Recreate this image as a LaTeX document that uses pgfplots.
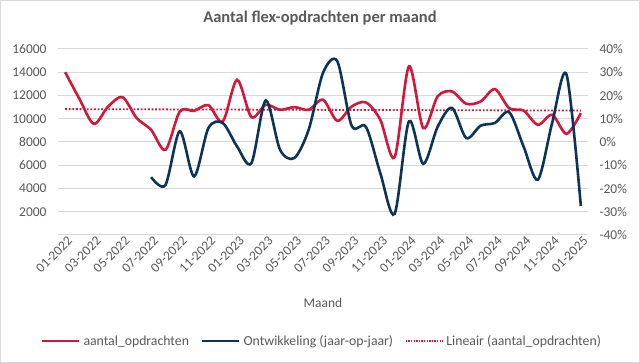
\documentclass[border=0pt]{standalone}
\usepackage{pgfplots}
\usepackage{pgfplotstable}
\pgfplotsset{compat=1.18}
\usepackage{fontspec}
\setmainfont{Carlito}
\definecolor{cred}{HTML}{D2173B}
\definecolor{cblue}{HTML}{0C3457}
\definecolor{ctext}{HTML}{595959}
\definecolor{cgrid}{HTML}{D9D9D9}

\pgfplotstableread{
i v
0 14000
1 11700
2 9560
3 11050
4 11860
5 10050
6 9050
7 7320
8 10620
9 10680
10 11170
11 9760
12 13350
13 10140
14 11200
15 10770
16 11000
17 10770
18 11630
19 9820
20 11050
21 11400
22 9910
23 6690
24 14500
25 9190
26 11920
27 12350
28 11290
29 11480
30 12550
31 10910
32 10710
33 9480
34 10340
35 8700
36 10480
}\reddata

\pgfplotstableread{
i p
6 -15.1
7 -18.5
8 4.6
9 -14.8
10 6.0
11 8.2
12 -1.9
13 -9.1
14 17.9
15 -3.3
16 -6.9
17 5.3
18 29.7
19 34.7
20 7.0
21 6.5
22 -13.4
23 -30.9
24 8.9
25 -9.4
26 6.5
27 14.7
28 1.7
29 7.0
30 8.2
31 12.8
32 -1.9
33 -16.2
34 8.2
35 29.0
36 -27.5
}\bluedata

\pgfplotstableread{
i t
0 10830
36 10700
}\trenddata

\begin{document}
\begin{tikzpicture}
\fill[white] (0,0) rectangle (640bp,363bp);
\draw[cgrid, line width=1bp] (0.5bp,0.5bp) rectangle (639.5bp,362.5bp);
\pgfplotsset{
  every axis/.append style={
    at={(58bp,128bp)}, anchor=south west, scale only axis,
    width=530bp, height=186bp,
    xmin=-0.5, xmax=36.5,
    axis line style={draw=none},
    major tick length=0pt,
    scaled y ticks=false,
    tick label style={font=\fontsize{13.5}{16}\selectfont, text=ctext},
  }
}
\begin{axis}[
  ymin=0, ymax=16000,
  ytick={0,2000,4000,6000,8000,10000,12000,14000,16000},
  yticklabels={,2000,4000,6000,8000,10000,12000,14000,16000},
  ymajorgrids, grid style={cgrid, line width=1bp},
  xtick={0,2,...,36},
  xticklabels={01-2022,03-2022,05-2022,07-2022,09-2022,11-2022,01-2023,03-2023,05-2023,07-2023,09-2023,11-2023,01-2024,03-2024,05-2024,07-2024,09-2024,11-2024,01-2025},
  xticklabel style={rotate=45, anchor=east, inner sep=1bp, yshift=-6bp, xshift=2bp},
  yticklabel style={xshift=-8bp},
]
\addplot[cred, line width=2.6bp, smooth, tension=0.5] table[x=i, y=v] {\reddata};
\addplot[cred, line width=1.8bp, dash pattern=on 1.8bp off 1.8bp] table[x=i, y=t] {\trenddata};
\end{axis}
\begin{axis}[
  ymin=-40, ymax=40,
  axis y line*=right, axis x line=none,
  xtick=\empty,
  ytick={-40,-30,-20,-10,0,10,20,30,40},
  yticklabels={-40\%,-30\%,-20\%,-10\%,0\%,10\%,20\%,30\%,40\%},
  yticklabel style={xshift=8bp},
  legend style={at={(0.498,-0.57)}, anchor=center, draw=none, fill=none,
    legend columns=3, font=\fontsize{13.8}{16}\selectfont, text=ctext,
    /tikz/every odd column/.append style={column sep=1bp},
    /tikz/every even column/.append style={column sep=10bp},
    inner sep=0pt},
  legend image code/.code={\draw[#1] (0bp,0bp) -- (37bp,0bp);},
  legend cell align=left,
]
\addlegendimage{cred, line width=2.6bp}
\addlegendentry{aantal\_opdrachten}
\addplot[cblue, line width=2.6bp, smooth, tension=0.5] table[x=i, y=p] {\bluedata};
\addlegendentry{Ontwikkeling (jaar-op-jaar)}
\addlegendimage{cred, line width=1.3bp, dash pattern=on 1.3bp off 1.3bp}
\addlegendentry{Lineair (aantal\_opdrachten)}
\end{axis}
\node[text=ctext, font=\fontsize{13.5}{16}\selectfont] at (323bp,60bp) {Maand};
\node[text=ctext, font=\bfseries\fontsize{16.5}{20}\selectfont] at (320bp,345bp) {Aantal flex-opdrachten per maand};
\end{tikzpicture}
\end{document}
